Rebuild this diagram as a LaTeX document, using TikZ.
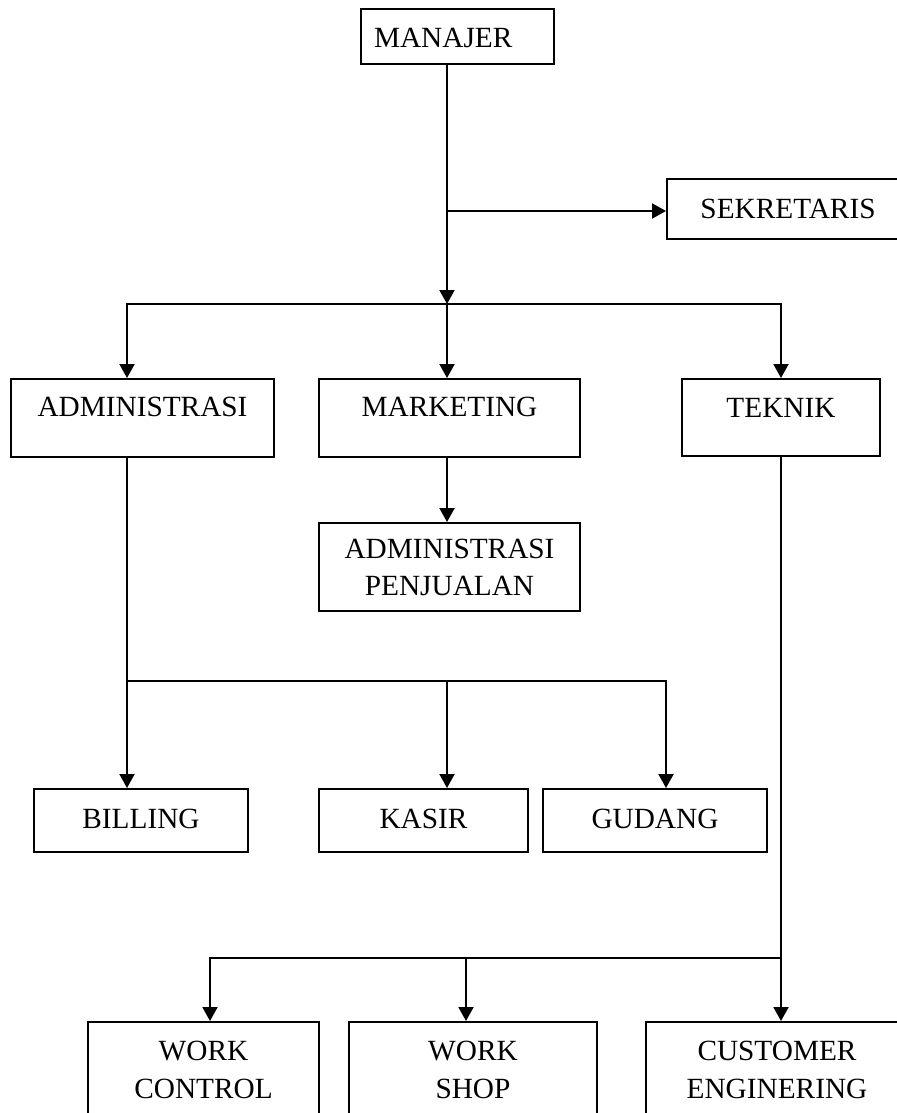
\documentclass[tikz,border=0pt]{standalone}
\usepackage{fontspec}
\setmainfont{Liberation Serif}
\usetikzlibrary{arrows.meta,positioning,calc}

\begin{document}
\begin{tikzpicture}[x=0.5pt,y=-0.5pt,
  box/.style={draw,line width=1pt,anchor=north west,inner xsep=0pt,inner ysep=0pt,font=\fontsize{14.65}{19}\selectfont},
  onel/.style 2 args={box,text height=#1,text depth=#2},
  twol/.style={box,align=center,minimum height=#1},
  conn/.style={line width=1pt},
  >={Triangle[length=7pt,width=7.5pt]}]
\clip (0,0) rectangle (897,1113);
\node[onel={19.5pt}{8pt},minimum width=96.5pt,inner xsep=6.5pt,text width=83.5pt,align=left] (man) at (360,8) {MANAJER};
\node[onel={19.5pt}{10.5pt},minimum width=121pt] (sek) at (666,178) {SEKRETARIS};
\node[onel={18.5pt}{20.5pt},minimum width=131.5pt] (adm) at (10,378) {ADMINISTRASI};
\node[onel={18.5pt}{20.5pt},minimum width=130.5pt] (mkt) at (318,378) {MARKETING};
\node[onel={19pt}{19.5pt},minimum width=99pt] (tek) at (681,378) {TEKNIK};
\node[twol=44pt,minimum width=130.5pt,font=\fontsize{14.65}{18.5}\selectfont] (pnj) at (318,522) {ADMINISTRASI\\PENJUALAN};
\node[onel={19.5pt}{12pt},minimum width=107pt] (bil) at (33,788) {BILLING};
\node[onel={19.5pt}{12pt},minimum width=104.5pt] (kas) at (318,788) {KASIR};
\node[onel={19.5pt}{12pt},minimum width=112pt] (gud) at (542,788) {GUDANG};
\node[twol=48pt,minimum width=115.5pt] (wct) at (87,1021) {WORK\\CONTROL};
\node[twol=48pt,minimum width=124pt] (wsh) at (348,1021) {WORK\\SHOP};
\node[twol=48pt,minimum width=131pt] (cus) at (645,1021) {CUSTOMER\\ENGINERING};
\coordinate (jsek) at (447,211);
\coordinate (jtop) at (447,304);
\coordinate (badm) at (127,304);
\coordinate (btek) at (781,304);
\coordinate (jadm) at (127,681);
\coordinate (jgud) at (666,681);
\coordinate (jtek) at (781,958);
\coordinate (jwc) at (210,958);
\coordinate (jws) at (466,958);
\draw[conn,->] (man.south -| jtop) -- (jtop);
\draw[conn,->] (jsek) -- (sek.west |- jsek);
\draw[conn,->] (jtop) -| (adm.north -| badm);
\draw[conn,->] (jtop) -| (tek.north -| btek);
\draw[conn,->] (jtop) -- (mkt.north -| jtop);
\draw[conn,->] (mkt.south -| jtop) -- (pnj.north -| jtop);
\draw[conn,->] (adm.south -| badm) -- (bil.north -| badm);
\draw[conn,->] (jadm) -| (gud.north -| jgud);
\draw[conn,->] (jtop |- jadm) -- (kas.north -| jtop);
\draw[conn,->] (tek.south -| btek) -- (cus.north -| btek);
\draw[conn,->] (jtek) -| (wct.north -| jwc);
\draw[conn,->] (jws) -- (wsh.north -| jws);
\end{tikzpicture}
\end{document}
